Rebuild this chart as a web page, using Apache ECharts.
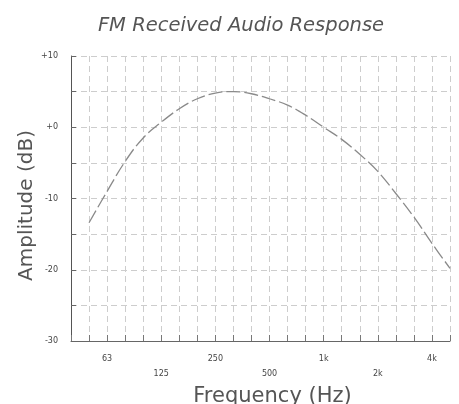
<!DOCTYPE html>
<html>
<head>
<meta charset="utf-8">
<script src="https://cdn.jsdelivr.net/npm/echarts@6/dist/echarts.min.js"></script>
<style>
  html, body { margin: 0; padding: 0; background: #fff; }
  #chart { width: 459px; height: 404px; }
</style>
</head>
<body>
<div id="chart"></div>
<script>
  // third-octave bands along the x axis
  const freqs = ['40', '50', '63', '80', '100', '125', '160', '200', '250', '315', '400',
    '500', '630', '800', '1k', '1.25k', '1.6k', '2k', '2.5k', '3.15k', '4k', '5k']
  // octave labels: upper row / lower row
  const upperLabels = ['63', '250', '1k', '4k']
  const lowerLabels = ['125', '500', '2k']
  // response in dB
  const amplitude = [null, -13.4, -9.0, -4.8, -1.5, 0.7, 2.6, 4.0, 4.8, 5.0, 4.7,
    4.0, 3.1, 1.7, 0.0, -1.7, -3.8, -6.2, -9.3, -12.6, -16.3, -19.8]

  const font = '"DejaVu Sans", Verdana, sans-serif'
  const chart = echarts.init(document.getElementById('chart'))
  chart.setOption({
    animation: false,
    title: {
      text: 'FM Received Audio Response',
      left: 236,
      top: 11,
      textAlign: 'center',
      textStyle: { fontFamily: font, fontStyle: 'italic', fontWeight: 'normal', fontSize: 19.5, color: '#555' }
    },
    grid: { left: 71, right: 9, top: 56, bottom: 63, containLabel: false, outerBoundsMode: 'none' },
    xAxis: {
      type: 'category',
      data: freqs,
      boundaryGap: false,
      name: 'Frequency (Hz)',
      nameLocation: 'middle',
      nameGap: 45,
      nameMoveOverlap: false,
      nameTextStyle: { fontFamily: font, fontSize: 21, color: '#555', padding: [0, 0, 0, 24] },
      axisLine: { onZero: false, lineStyle: { color: '#666', width: 1 } },
      axisTick: { show: true, interval: 0, length: -6, lineStyle: { color: '#777' } },
      axisLabel: {
        interval: 0,
        fontFamily: font,
        fontSize: 8,
        color: '#444',
        margin: 10,
        lineHeight: 15,
        formatter: v => upperLabels.includes(v) ? v : (lowerLabels.includes(v) ? '\n' + v : '')
      },
      splitLine: { show: true, interval: 0, lineStyle: { color: '#cdcdcd', type: [6, 4] } }
    },
    yAxis: {
      type: 'value',
      min: -30,
      max: 10,
      interval: 5,
      name: 'Amplitude (dB)',
      nameLocation: 'middle',
      nameGap: 34,
      nameMoveOverlap: false,
      nameTextStyle: { fontFamily: font, fontSize: 20, color: '#555', padding: [0, 14, 0, 0] },
      axisLine: { show: true, lineStyle: { color: '#555', width: 1 } },
      axisTick: { show: true, length: -5, lineStyle: { color: '#666' } },
      axisLabel: {
        fontFamily: font,
        fontSize: 8,
        color: '#444',
        margin: 13,
        formatter: v => v % 10 !== 0 ? '' : (v >= 0 ? '+' + v : String(v))
      },
      splitLine: { show: true, lineStyle: { color: '#cdcdcd', type: [6, 4] } }
    },
    series: [{
      type: 'line',
      data: amplitude,
      smooth: 0.4,
      symbol: 'none',
      connectNulls: false,
      lineStyle: { color: '#8a8a8a', width: 1.3, type: [14, 4] }
    }]
  })
</script>
</body>
</html>
